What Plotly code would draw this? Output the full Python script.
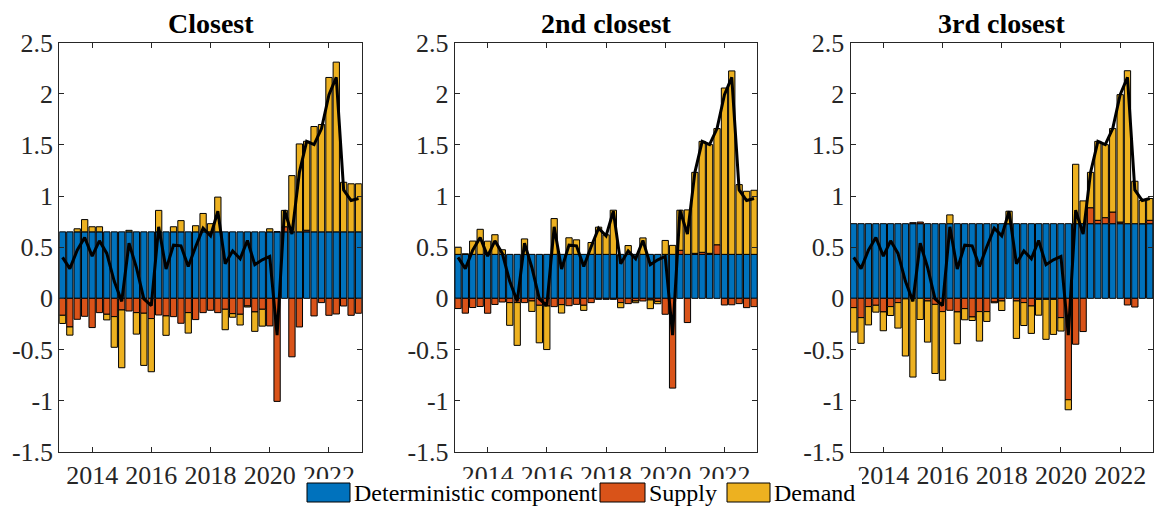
import pandas as pd
import plotly.graph_objects as go
from plotly.subplots import make_subplots

# ---------------- data ----------------
quarters = pd.date_range("2013-01-01", periods=41, freq="QS")
panel_titles = ["Closest", "2nd closest", "3rd closest"]
year_ticks = ["2014", "2016", "2018", "2020", "2022"]
y_ticks = [-1.5, -1, -0.5, 0, 0.5, 1, 1.5, 2, 2.5]
y_tick_labels = ["-1.5", "-1", "-0.5", "0", "0.5", "1", "1.5", "2", "2.5"]

actual = [0.40, 0.29, 0.47, 0.595, 0.413, 0.562, 0.439, 0.166, -0.03, 0.539,
          0.302, -0.005, -0.071, 0.699, 0.286, 0.52, 0.513, 0.312, 0.504, 0.686,
          0.611, 0.852, 0.338, 0.464, 0.387, 0.565, 0.329, 0.377, 0.41, -0.36,
          0.862, 0.628, 1.232, 1.535, 1.503, 1.66, 1.992, 2.161, 1.06, 0.956, 0.976]

det_closest = 0.65
det_2nd = 0.43
det_3rd = 0.73

supply_closest = [-0.166, -0.28, -0.205, -0.176, -0.286, -0.14, -0.156, -0.179, -0.114, -0.124,
                  -0.14, -0.146, -0.198, -0.163, -0.172, -0.179, -0.244, -0.14, -0.208, -0.14,
                  -0.117, -0.14, -0.107, -0.15, -0.156, -0.075, -0.133, -0.107, -0.27, -1.008,
                  0.05, -0.572, -0.28, 0.016, -0.172, -0.042, -0.166, -0.153, -0.075, -0.166, -0.146]
demand_closest = [-0.08, -0.08, 0.03, 0.12, 0.05, 0.05, -0.055, -0.30, -0.565, 0.015,
                  -0.21, -0.51, -0.52, 0.21, -0.19, 0.05, 0.11, -0.20, 0.06, 0.18,
                  0.08, 0.34, -0.20, -0.035, -0.105, -0.01, -0.19, -0.165, 0.03, 0.0,
                  0.16, 0.55, 0.86, 0.87, 1.03, 1.05, 1.51, 1.66, 0.485, 0.47, 0.47]

supply_2nd = [-0.10, -0.145, -0.09, -0.08, -0.146, -0.06, -0.036, -0.042, -0.042, -0.042,
              -0.026, -0.068, -0.075, -0.081, -0.062, -0.072, -0.059, -0.068, -0.042, -0.01,
              -0.01, -0.01, -0.042, -0.052, -0.026, -0.026, -0.016, -0.03, -0.156, -0.878,
              0.04, -0.237, 0.01, 0.02, 0.01, 0.094, -0.065, -0.063, -0.052, -0.091, -0.081]
demand_2nd = [0.07, 0.005, 0.13, 0.245, 0.129, 0.192, 0.045, -0.222, -0.418, 0.151,
              -0.102, -0.367, -0.426, 0.35, -0.082, 0.162, 0.142, -0.05, 0.116, 0.266,
              0.191, 0.432, -0.05, 0.086, -0.017, 0.161, -0.085, -0.023, 0.136, 0.088,
              0.392, 0.435, 0.792, 1.085, 1.063, 1.136, 1.627, 1.794, 0.682, 0.617, 0.627]

supply_3rd = [-0.091, -0.189, -0.081, -0.068, -0.133, -0.081, -0.042, -0.005, 0.01, 0.016,
              -0.026, -0.059, -0.13, -0.117, -0.133, -0.101, -0.182, -0.13, -0.13, -0.036,
              -0.026, 0.0, -0.026, -0.042, -0.075, -0.01, -0.01, -0.01, -0.189, -0.992,
              -0.449, -0.325, 0.156, 0.033, 0.059, 0.114, 0.016, -0.065, -0.085, 0.0, 0.033]
demand_3rd = [-0.239, -0.251, -0.179, -0.067, -0.184, -0.087, -0.249, -0.559, -0.77, -0.207,
              -0.402, -0.676, -0.671, 0.086, -0.311, -0.109, -0.035, -0.288, -0.096, -0.008,
              -0.093, 0.122, -0.366, -0.224, -0.268, -0.155, -0.391, -0.343, -0.131, -0.098,
              0.581, 0.223, 0.346, 0.772, 0.714, 0.816, 1.246, 1.496, 0.415, 0.226, 0.213]

panels = [
    (det_closest, supply_closest, demand_closest),
    (det_2nd, supply_2nd, demand_2nd),
    (det_3rd, supply_3rd, demand_3rd),
]

# ---------------- style ----------------
BLUE = "#0072BD"
ORANGE = "#D95319"
YELLOW = "#EDB120"
AX = "#262626"
FONT = "Liberation Serif"
W, H = 1156, 508

bar_width_ms = 0.85 * 91.3 * 86400000

fig = make_subplots(rows=1, cols=3)

for i, (det, sup, dem) in enumerate(panels):
    c = i + 1
    fig.add_trace(go.Bar(x=quarters, y=[det] * len(quarters), width=bar_width_ms,
                         marker=dict(color=BLUE, line=dict(color="black", width=1)),
                         name="Deterministic component"), row=1, col=c)
    fig.add_trace(go.Bar(x=quarters, y=sup, width=bar_width_ms,
                         marker=dict(color=ORANGE, line=dict(color="black", width=1)),
                         name="Supply"), row=1, col=c)
    fig.add_trace(go.Bar(x=quarters, y=dem, width=bar_width_ms,
                         marker=dict(color=YELLOW, line=dict(color="black", width=1)),
                         name="Demand"), row=1, col=c)
    fig.add_trace(go.Scatter(x=quarters, y=actual, mode="lines",
                             line=dict(color="black", width=3), name="Actual"),
                  row=1, col=c)

x_domains = [(59.3, 361.8), (454.8, 757.3), (850.5, 1153.0)]
y_dom = [1 - 451.7 / H, 1 - 42.7 / H]

for i, (a, b) in enumerate(x_domains):
    c = i + 1
    fig.update_xaxes(domain=[a / W, b / W], type="date", automargin=False,
                     range=["2012-11-22", "2023-02-10"],
                     tickvals=[f"{y}-01-01" for y in year_ticks], ticktext=year_ticks,
                     ticks="inside", ticklen=5, tickcolor=AX, tickwidth=1,
                     showline=True, linecolor=AX, linewidth=1, mirror="ticks",
                     showgrid=False, zeroline=False,
                     tickfont=dict(family=FONT, size=26, color=AX),
                     row=1, col=c)
    fig.update_yaxes(domain=y_dom, range=[-1.5, 2.5], automargin=False,
                     tickvals=y_ticks, ticktext=y_tick_labels,
                     ticks="inside", ticklen=5, tickcolor=AX, tickwidth=1,
                     showline=True, linecolor=AX, linewidth=1, mirror="ticks",
                     showgrid=False, zeroline=False,
                     tickfont=dict(family=FONT, size=26, color=AX),
                     row=1, col=c)

annotations = []
for (a, b), t in zip(x_domains, panel_titles):
    annotations.append(dict(x=(a + b) / 2 / W, y=1 - 41 / H, xref="paper", yref="paper",
                            xanchor="center", yanchor="bottom", showarrow=False,
                            text=f"<b>{t}</b>",
                            font=dict(family=FONT, size=28, color="black")))

# custom legend (white box covering tick labels, like the original)
shapes = [dict(type="rect", xref="paper", yref="paper", layer="above",
               x0=300 / W, x1=862 / W, y0=0, y1=1 - 479 / H,
               fillcolor="white", line=dict(width=0))]
legend_items = [(BLUE, 307, 350, "Deterministic component"),
                (ORANGE, 600, 645, "Supply"),
                (YELLOW, 727, 770, "Demand")]
for col, sx0, sx1, label in legend_items:
    shapes.append(dict(type="rect", xref="paper", yref="paper", layer="above",
                       x0=sx0 / W, x1=sx1 / W, y0=1 - 502 / H, y1=1 - 483 / H,
                       fillcolor=col, line=dict(color="black", width=1)))
    annotations.append(dict(x=(sx1 + 2) / W, y=1 - 492.5 / H, xref="paper", yref="paper",
                            xanchor="left", yanchor="middle", showarrow=False,
                            text=label, font=dict(family=FONT, size=24, color="black")))

fig.update_layout(width=W, height=H, margin=dict(l=0, r=0, t=0, b=0, autoexpand=False),
                  paper_bgcolor="white", plot_bgcolor="white",
                  barmode="relative", showlegend=False,
                  font=dict(family=FONT, size=26, color=AX),
                  annotations=annotations, shapes=shapes)

fig.write_html("out.html")
